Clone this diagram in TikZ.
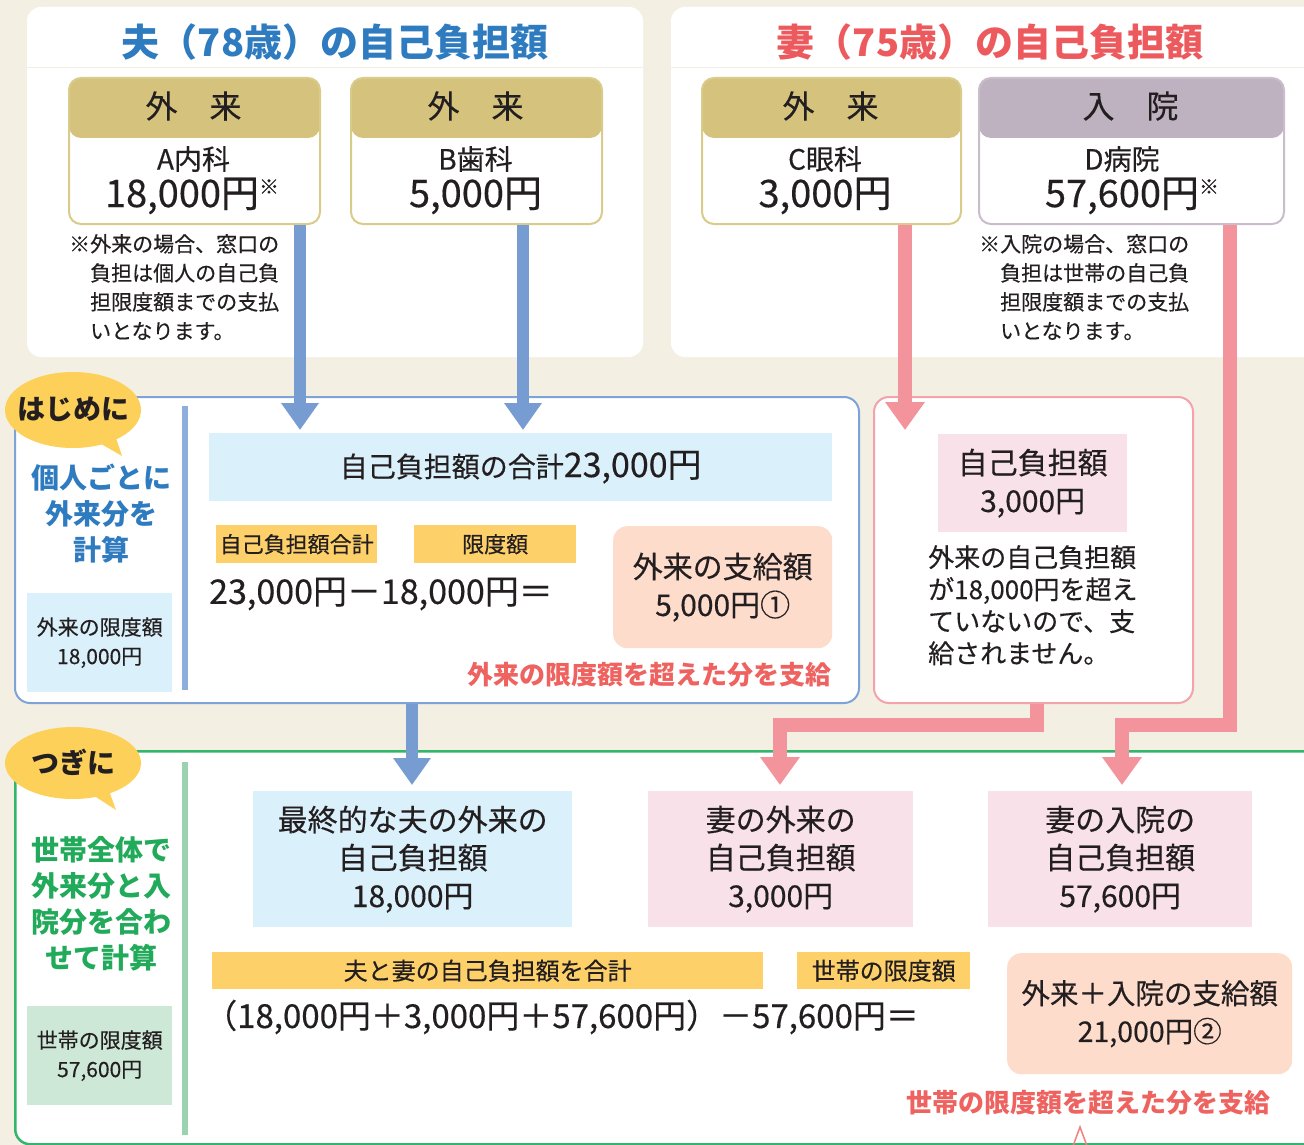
\documentclass[tikz,border=0pt]{standalone}
\usepackage{fontspec}
\newfontfamily\jp[UprightFeatures={FakeBold=0.35}]{Noto Sans CJK JP}
\usetikzlibrary{arrows.meta,calc}
\definecolor{bg}{HTML}{F3EFE3}
\definecolor{ink}{HTML}{231F20}
\definecolor{tblue}{HTML}{2E7BC0}
\definecolor{tred}{HTML}{EC5A5E}
\definecolor{tan}{HTML}{D4C27D}
\definecolor{tanb}{HTML}{D9CB8A}
\definecolor{mauve}{HTML}{BEB2C1}
\definecolor{mauveb}{HTML}{C9BDCB}
\definecolor{barrowc}{HTML}{769CD2}
\definecolor{parrowc}{HTML}{F3939B}
\definecolor{bborder}{HTML}{7EA3D8}
\definecolor{pborder}{HTML}{F4A3AA}
\definecolor{lblue}{HTML}{DAF0FB}
\definecolor{lpink}{HTML}{F9E1EA}
\definecolor{ylw}{HTML}{FDD06A}
\definecolor{peach}{HTML}{FDDCCC}
\definecolor{redtext}{HTML}{EE625F}
\definecolor{gborder}{HTML}{33B56C}
\definecolor{gbar}{HTML}{9BD3B0}
\definecolor{gtext}{HTML}{22AA5B}
\definecolor{lgreen}{HTML}{CDE8D6}
\definecolor{bbar}{HTML}{8EAEDB}
\definecolor{bubble}{HTML}{FDD05A}
\definecolor{sepc}{HTML}{F1EEE6}
\newcommand{\fz}[2]{\fontsize{#1}{#2}\selectfont}
\tikzset{
  hdrbox/.style n args={2}{draw=#2, line width=2pt, rounded corners=12pt, fill=white,
    inner sep=0pt, anchor=north west,
    path picture={\fill[#1] (path picture bounding box.north west) rectangle ([yshift=-60pt]path picture bounding box.north east);}},
  headtxt/.style={font=\jp\fz{32}{34}},
  nametxt/.style={font=\jp\fz{28}{30}},
  amttxt/.style={font=\jp\fz{38}{40}},
  notetxt/.style={font=\jp\fz{21}{29}, align=left, anchor=north west, inner sep=0pt},
  boxtxt/.style={font=\jp\fz{30}{38}, align=center, anchor=north west, inner sep=0pt},
  smallbox/.style={font=\jp\fz{21}{29}, align=center, anchor=north west, inner sep=0pt,
    minimum width=145pt, minimum height=99pt},
  lbl/.style={fill=ylw, font=\jp\fz{24}{26}, anchor=north west, inner sep=0pt},
  redtxt/.style={text=redtext, font=\jp\bfseries\fz{26}{28}, anchor=east, inner sep=0pt},
  bubtxt/.style={font=\jp\bfseries\fz{28}{30}},
  steptxt/.style={font=\jp\bfseries\fz{28}{36}, align=center},
  barrow/.style={draw=barrowc, line width=12pt, -{Triangle[width=36pt,length=27pt]}},
  parrow/.style={draw=parrowc, line width=14pt, line join=miter, -{Triangle[width=38pt,length=28pt]}},
}
\begin{document}
\begin{tikzpicture}[x=1pt, y=-1pt, text=ink, font=\jp]
\fill[bg] (0,0) rectangle (1304,1145);
\useasboundingbox (0,0) rectangle (1304,1145);

% top panels
\fill[white, rounded corners=14pt] (27,7) rectangle (643,357);
\fill[white, rounded corners=14pt] (671,7) rectangle (1340,357);
\draw[sepc, line width=1pt] (27,68) -- (643,68);
\draw[sepc, line width=1pt] (671,68) -- (1304,68);
\node[font=\jp\bfseries\fz{38}{40}, text=tblue] (title1) at (335,42) {夫（78歳）の自己負担額};
\node[font=\jp\bfseries\fz{38}{40}, text=tred] (title2) at (990,42) {妻（75歳）の自己負担額};

% header boxes
\node[hdrbox={tan}{tanb}, minimum width=251pt, minimum height=146pt] (boxA) at (68,77) {};
\node[hdrbox={tan}{tanb}, minimum width=251pt, minimum height=146pt] (boxB) at (350,77) {};
\node[hdrbox={tan}{tanb}, minimum width=259pt, minimum height=146pt] (boxC) at (701,77) {};
\node[hdrbox={mauve}{mauveb}, minimum width=305pt, minimum height=146pt] (boxD) at (978,77) {};

\node[headtxt] (hA) at (193.5,106) {外　来};
\node[headtxt] (hB) at (475.5,106) {外　来};
\node[headtxt] (hC) at (830.5,106) {外　来};
\node[headtxt] (hD) at (1130.5,106) {入　院};

\node[nametxt] (nA) at (193.5,159) {A内科};
\node[nametxt] (nB) at (475.5,159) {B歯科};
\node[nametxt] (nC) at (825,159) {C眼科};
\node[nametxt] (nD) at (1122,159) {D病院};

\node[amttxt] (mA) at (192,196) {18,000円\raisebox{13pt}{\fz{20}{20}※}};
\node[amttxt] (mB) at (475.5,196) {5,000円};
\node[amttxt] (mC) at (825,196) {3,000円};
\node[amttxt] (mD) at (1132,196) {57,600円\raisebox{13pt}{\fz{20}{20}※}};

\node[notetxt] (noteL) at (69,234) {※外来の場合、窓口の\\\hspace*{1em}負担は個人の自己負\\\hspace*{1em}担限度額までの支払\\\hspace*{1em}いとなります。};
\node[notetxt] (noteR) at (979,234) {※入院の場合、窓口の\\\hspace*{1em}負担は世帯の自己負\\\hspace*{1em}担限度額までの支払\\\hspace*{1em}いとなります。};

% step 1 boxes
\node[draw=bborder, line width=2pt, rounded corners=15pt, fill=white, inner sep=0pt,
  minimum width=844pt, minimum height=306pt, anchor=north west] (step1) at (14,396) {};
\node[draw=pborder, line width=2pt, rounded corners=15pt, fill=white, inner sep=0pt,
  minimum width=319pt, minimum height=306pt, anchor=north west] (wifebox) at (873,396) {};
% step 2 box
\node[draw=gborder, line width=2.5pt, rounded corners=15pt, fill=white, inner sep=0pt,
  minimum width=1340pt, minimum height=393pt, anchor=north west] (step2) at (14,750) {};

\fill[bbar] (182,406) rectangle (188,690);
\fill[gbar] (182,762) rectangle (188,1135);

% bubbles
\fill[bubble] (73,410) ellipse [x radius=68, y radius=38];
\fill[bubble] (84,434) -- (114,432) -- (122,456) -- cycle;
\node[bubtxt] (bub1) at (73,409) {はじめに};
\fill[bubble] (73,763) ellipse [x radius=68, y radius=36];
\fill[bubble] (82,788) -- (108,788) -- (116,810) -- cycle;
\node[bubtxt] (bub2) at (73,762) {つぎに};

% step 1 content
\node[steptxt, text=tblue] (kojin) at (101,514) {個人ごとに\\外来分を\\計算};
\node[smallbox, fill=lblue] (lim1) at (27,593) {外来の限度額\\18,000円};
\node[fill=lblue, minimum width=623pt, minimum height=68pt, anchor=north west, inner sep=0pt] (sum) at (209,433)
  {\fz{28}{30}自己負担額の合計{\fz{34}{35}23,000円}};
\node[lbl, minimum width=161pt, minimum height=38pt, font=\jp\fz{22}{24}] (lab1) at (216,525) {自己負担額合計};
\node[lbl, minimum width=162pt, minimum height=38pt, font=\jp\fz{22}{24}] (lab2) at (414,525) {限度額};
\node[anchor=west, inner sep=0pt, font=\jp\fz{34}{36}] (f1) at (209,594) {23,000円－18,000円＝};
\node[boxtxt, fill=peach, rounded corners=14pt, minimum width=219pt, minimum height=122pt] (pay1) at (613,526) {外来の支給額\\5,000円①};
\node[redtxt] (over1) at (832,675) {外来の限度額を超えた分を支給};

\node[boxtxt, fill=lpink, minimum width=189pt, minimum height=98pt] (self3) at (938,434) {自己負担額\\3,000円};
\node[notetxt, font=\jp\fz{26}{32}] (nosup) at (928,545) {外来の自己負担額\\が18,000円を超え\\ていないので、支\\給されません。};

% step 2 content
\node[steptxt, text=gtext] (setai) at (101,904) {世帯全体で\\外来分と入\\院分を合わ\\せて計算};
\node[smallbox, fill=lgreen] (lim2) at (27,1006) {世帯の限度額\\57,600円};
\node[boxtxt, fill=lblue, minimum width=319pt, minimum height=136pt] (husb) at (253,791) {最終的な夫の外来の\\自己負担額\\18,000円};
\node[boxtxt, fill=lpink, minimum width=265pt, minimum height=136pt] (wifeout) at (648,791) {妻の外来の\\自己負担額\\3,000円};
\node[boxtxt, fill=lpink, minimum width=264pt, minimum height=136pt] (wifein) at (988,791) {妻の入院の\\自己負担額\\57,600円};
\node[lbl, minimum width=551pt, minimum height=37pt] (lab3) at (212,952) {夫と妻の自己負担額を合計};
\node[lbl, minimum width=173pt, minimum height=37pt] (lab4) at (797,952) {世帯の限度額};
\node[anchor=west, inner sep=0pt, font=\jp\fz{33}{35}] (f2) at (204,1017) {（18,000円＋3,000円＋57,600円）－57,600円＝};
\node[boxtxt, fill=peach, rounded corners=14pt, minimum width=285pt, minimum height=121pt, font=\jp\fz{28.5}{38}] (pay2) at (1007,953) {外来＋入院の支給額\\21,000円②};
\node[redtxt] (over2) at (1271,1103) {世帯の限度額を超えた分を支給};
\draw[redtext!80, line width=1.5pt] (1073,1146) -- (1080,1127) -- (1087,1146);

% arrows
\coordinate (tA) at (300,430);
\coordinate (tB) at (523,430);
\coordinate (tC) at (905,430);
\coordinate (jD) at (1230,725);
\coordinate (tD) at (1122,785);
\coordinate (jW) at (1037,725);
\coordinate (tW) at (780,785);
\coordinate (tS) at (412,785);
\draw[barrow] (boxA.south -| tA) -- (tA);
\draw[barrow] (boxB.south -| tB) -- (tB);
\draw[parrow] (boxC.south -| tC) -- (tC);
\draw[parrow] (boxD.south -| jD) -- (jD) -| (tD);
\draw[parrow] (wifebox.south -| jW) -- (jW) -| (tW);
\draw[barrow] (step1.south -| tS) -- (tS);
\end{tikzpicture}
\end{document}
